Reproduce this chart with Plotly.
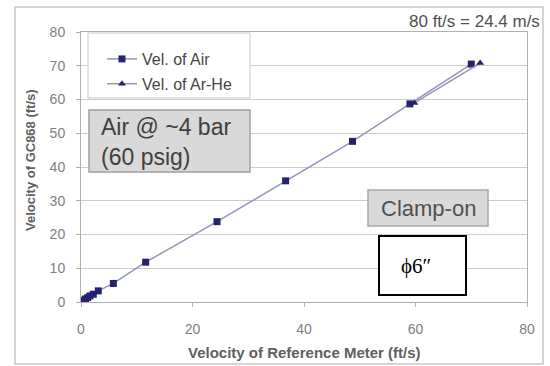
import plotly.graph_objects as go

# Data
air_ref = [0.4, 0.8, 1.2, 1.6, 2.2, 3.1, 5.8, 11.6, 24.4, 36.7, 48.7, 59.0, 70.0]
air_gc = [0.5, 0.9, 1.3, 1.8, 2.3, 3.3, 5.5, 11.8, 23.8, 35.9, 47.6, 58.7, 70.5]
arhe_ref = [59.8, 71.6]
arhe_gc = [59.0, 70.8]

x_ticks = [0, 20, 40, 60, 80]
y_ticks = [0, 10, 20, 30, 40, 50, 60, 70, 80]

W, H = 550, 366
L, R, T, B = 81, 527, 32, 302


def fx(px):
    return (px - L) / (R - L)


def fy(py):
    return (B - py) / (B - T)


marker_color = "#23236e"
line_color = "#9494b8"
font = "Arial, Liberation Sans, sans-serif"

fig = go.Figure()
fig.add_trace(go.Scatter(
    x=air_ref, y=air_gc, name="Vel. of Air", mode="lines+markers",
    line=dict(color=line_color, width=1.5),
    marker=dict(symbol="square", size=7, color=marker_color),
    legendgroup="a",
))
fig.add_trace(go.Scatter(
    x=arhe_ref, y=arhe_gc, name="Vel. of Ar-He", mode="lines+markers",
    line=dict(color=line_color, width=1.5),
    marker=dict(symbol="triangle-up", size=7, color=marker_color),
    legendgroup="b",
))

shapes = [
    # outer frame
    dict(type="rect", xref="paper", yref="paper", x0=fx(15), x1=fx(543), y0=fy(364), y1=fy(7),
         line=dict(color="#c8c8c8", width=1.5), fillcolor="rgba(0,0,0,0)", layer="above"),
    # legend box
    dict(type="rect", xref="paper", yref="paper", x0=fx(88), x1=fx(250), y0=fy(98), y1=fy(33),
         line=dict(color="#c8c8c8", width=1), fillcolor="white"),
    # Air box
    dict(type="rect", xref="paper", yref="paper", x0=fx(89), x1=fx(250), y0=fy(172), y1=fy(110),
         line=dict(color="#a0a0a0", width=1.5), fillcolor="#d9d9d9"),
    # Clamp-on box
    dict(type="rect", xref="paper", yref="paper", x0=fx(368), x1=fx(488), y0=fy(226), y1=fy(190),
         line=dict(color="#a8a8a8", width=1.5), fillcolor="#d9d9d9"),
    # phi box
    dict(type="rect", xref="paper", yref="paper", x0=fx(379), x1=fx(466), y0=fy(295), y1=fy(236),
         line=dict(color="black", width=2), fillcolor="white"),
]

annotations = [
    dict(text="Air @ ~4 bar<br>(60 psig)", xref="paper", yref="paper", x=fx(99), y=fy(142),
         xanchor="left", yanchor="middle", align="left", showarrow=False,
         font=dict(family=font, size=23, color="#404040")),
    dict(text="Clamp-on", xref="paper", yref="paper", x=fx(428), y=fy(208),
         xanchor="center", yanchor="middle", showarrow=False,
         font=dict(family=font, size=22, color="#505050")),
    dict(text="ϕ6″", xref="paper", yref="paper", x=fx(416), y=fy(266),
         xanchor="center", yanchor="middle", showarrow=False,
         font=dict(family="Liberation Serif, DejaVu Serif, serif", size=21, color="black")),
    dict(text="80 ft/s = 24.4 m/s", xref="paper", yref="paper", x=fx(542), y=fy(21),
         xanchor="right", yanchor="middle", showarrow=False,
         font=dict(family=font, size=17, color="#505050")),
    dict(text="<b>Velocity of Reference Meter (ft/s)</b>", xref="paper", yref="paper",
         x=fx(304), y=fy(352), xanchor="center", yanchor="middle", showarrow=False,
         font=dict(family=font, size=15, color="#606060")),
    dict(text="<b>Velocity of GC868 (ft/s)</b>", xref="paper", yref="paper",
         x=fx(30), y=fy(160), xanchor="center", yanchor="middle", showarrow=False, textangle=-90,
         font=dict(family=font, size=13, color="#606060")),
]

fig.update_layout(
    width=W, height=H,
    margin=dict(l=L, r=W - R, t=T, b=H - B),
    paper_bgcolor="white", plot_bgcolor="white",
    font=dict(family=font, size=14, color="#707070"),
    showlegend=True,
    legend=dict(x=fx(102), y=fy(42), xanchor="left", yanchor="top",
                bgcolor="rgba(0,0,0,0)", borderwidth=0, tracegroupgap=1,
                font=dict(family=font, size=16, color="#454545")),
    shapes=shapes, annotations=annotations,
    xaxis=dict(range=[0, 80], tickvals=x_ticks, showgrid=False, zeroline=False,
               showline=True, linecolor="#b0b0b0", mirror=True,
               ticks="outside", ticklen=4, tickcolor="#b0b0b0", ticklabelstandoff=10,
               tickfont=dict(size=14, color="#808080")),
    yaxis=dict(range=[0, 80], tickvals=y_ticks, showgrid=True, gridcolor="#cccccc",
               zeroline=False, showline=True, linecolor="#b0b0b0", mirror=True,
               ticks="outside", ticklen=4, tickcolor="#b0b0b0", ticklabelstandoff=8,
               tickfont=dict(size=14, color="#808080")),
)

fig.write_html("out.html", config={"displayModeBar": False},
               post_script="document.body.style.margin='0px';")
